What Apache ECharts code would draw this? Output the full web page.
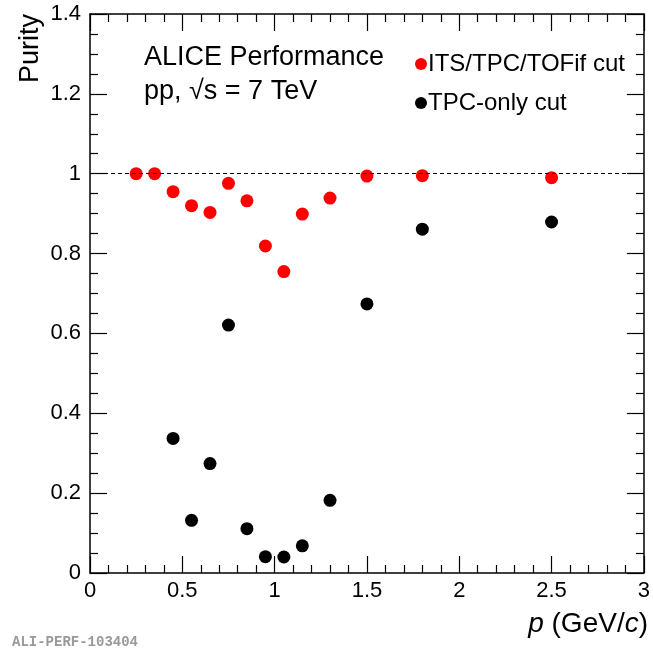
<!DOCTYPE html>
<html>
<head>
<meta charset="utf-8">
<title>Purity</title>
<script src="https://cdn.jsdelivr.net/npm/echarts@6/dist/echarts.min.js"></script>
</head>
<body style="margin:0">
<div id="main" style="width:653px;height:653px;"></div>
<script>
// momentum bins (GeV/c) and purity
var pTof = [0.25, 0.35, 0.45, 0.55, 0.65, 0.75, 0.85, 0.95, 1.05, 1.15, 1.3, 1.5, 1.8, 2.5];
var purityTof = [1.0, 1.0, 0.955, 0.920, 0.903, 0.976, 0.932, 0.819, 0.755, 0.899, 0.939, 0.994, 0.995, 0.990];
var pTpc = [0.45, 0.55, 0.65, 0.75, 0.85, 0.95, 1.05, 1.15, 1.3, 1.5, 1.8, 2.5];
var purityTpc = [0.337, 0.132, 0.274, 0.621, 0.111, 0.041, 0.040, 0.068, 0.182, 0.674, 0.861, 0.879];
var seriesNames = ['ITS/TPC/TOFif cut', 'TPC-only cut'];

function pairs(xs, ys) {
    var out = [];
    for (var i = 0; i < xs.length; i++) out.push([xs[i], ys[i]]);
    return out;
}

var font = 'Liberation Sans';
var myChart = echarts.init(document.getElementById('main'));

function xAx(pos, showLabel) {
    return {
        type: 'value', position: pos, min: 0, max: 3, interval: 0.5,
        axisLine: { show: true, onZero: false, lineStyle: { color: '#000', width: 1.5 } },
        axisTick: { show: true, inside: true, length: 17, lineStyle: { color: '#000', width: 1.2 } },
        minorTick: { show: true, splitNumber: 5, length: 8, lineStyle: { color: '#000', width: 1.2 } },
        splitLine: { show: false },
        axisLabel: { show: showLabel, color: '#000', fontSize: 22, fontFamily: font, margin: 7 }
    };
}
function yAx(pos, showLabel) {
    return {
        type: 'value', position: pos, min: 0, max: 1.4, interval: 0.2,
        axisLine: { show: true, onZero: false, lineStyle: { color: '#000', width: 1.5 } },
        axisTick: { show: true, inside: true, length: 17, lineStyle: { color: '#000', width: 1.2 } },
        minorTick: { show: true, splitNumber: 4, length: 8, lineStyle: { color: '#000', width: 1.2 } },
        splitLine: { show: false },
        axisLabel: { show: showLabel, color: '#000', fontSize: 22, fontFamily: font, margin: 9 }
    };
}

var option = {
    animation: false,
    backgroundColor: '#fff',
    grid: { left: 90, right: 5, top: 14, bottom: 80 },
    title: [
        { text: 'ALICE Performance', left: 144, top: 44, padding: 0,
          textStyle: { fontFamily: font, fontSize: 27, fontWeight: 'normal', color: '#000' } },
        { text: 'pp, √s = 7 TeV', left: 144, top: 78, padding: 0,
          textStyle: { fontFamily: font, fontSize: 27, fontWeight: 'normal', color: '#000' } },
        { text: '{i|p} (GeV/{i|c})', right: 5, top: 610, padding: 0,
          textStyle: { fontFamily: font, fontSize: 28, fontWeight: 'normal', color: '#000',
              rich: { i: { fontFamily: font, fontSize: 28, fontStyle: 'italic', color: '#000' } } } },
        { text: 'ALI-PERF-103404', left: 12, top: 635, padding: 0,
          textStyle: { fontFamily: 'Liberation Mono', fontSize: 14, fontWeight: 'bold', color: '#999' } }
    ],
    graphic: [{
        type: 'text', x: 17, y: 83, rotation: Math.PI / 2,
        style: { text: 'Purity', font: '27px "Liberation Sans"', fill: '#000', textAlign: 'left', textVerticalAlign: 'top' }
    }],
    legend: {
        data: seriesNames, orient: 'vertical', left: 410, top: 47, itemGap: 15,
        itemWidth: 12, itemHeight: 12, icon: 'circle',
        textStyle: { fontFamily: font, fontSize: 24, color: '#000', padding: [0, 0, 0, -4] }
    },
    xAxis: [xAx('bottom', true), xAx('top', false)],
    yAxis: [yAx('left', true), yAx('right', false)],
    series: [
        {
            name: seriesNames[0], type: 'scatter', symbolSize: 13,
            itemStyle: { color: '#ff0000', opacity: 1 },
            data: pairs(pTof, purityTof),
            markLine: {
                silent: true, symbol: 'none', label: { show: false },
                lineStyle: { color: '#000', type: [4, 3], width: 1 },
                data: [{ yAxis: 1 }]
            },
            z: 3
        },
        {
            name: seriesNames[1], type: 'scatter', symbolSize: 13,
            itemStyle: { color: '#000', opacity: 1 },
            data: pairs(pTpc, purityTpc),
            z: 3
        }
    ]
};
myChart.setOption(option);
</script>
</body>
</html>
